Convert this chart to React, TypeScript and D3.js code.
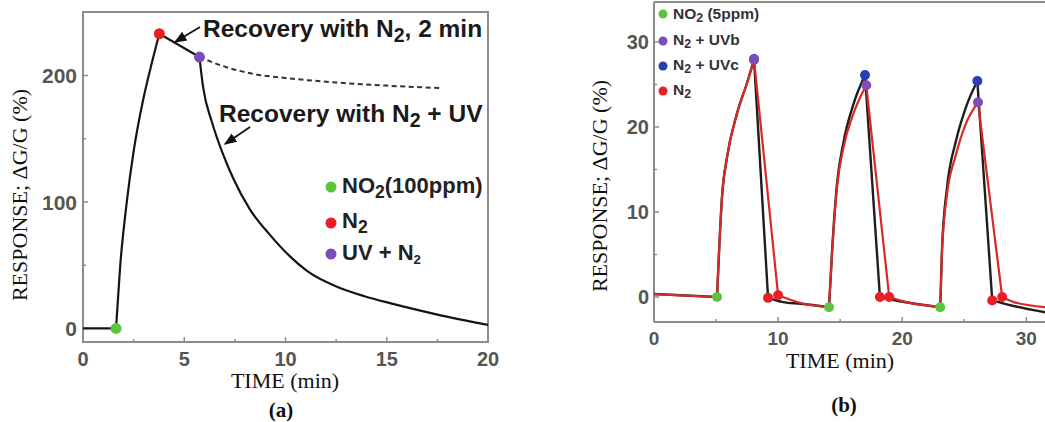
import React from "react";
import * as d3 from "d3";

const W = 1045;
const H = 422;

type Pt = [number, number];

// ---- panel (a): NO2 100 ppm, one cycle ----
const aMain: Pt[] = [
  [0, 0], [1.63, 0], [1.83, 48], [2.17, 101], [2.5, 140], [2.96, 180], [3.4, 210], [3.77, 233],
  [5.75, 214.6], [5.93, 191], [6.37, 163], [6.86, 140], [7.41, 119], [8.25, 94], [9.23, 74],
  [10.22, 57], [11.06, 45.5], [12.69, 32], [13.9, 25.5], [15.16, 20], [17.5, 11], [20, 2.8],
];
const aDashed: Pt[] = [[5.75, 214.6], [7, 207], [8.5, 201], [10, 198], [12.5, 194.5], [15, 192], [17.7, 190]];
const aNO2: Pt[] = [[1.63, 0]];
const aN2: Pt[] = [[3.77, 233]];
const aUV: Pt[] = [[5.75, 214.6]];
const aXTicks = [0, 5, 10, 15, 20];
const aXMinor = [2.5, 7.5, 12.5, 17.5];
const aYTicks = [0, 100, 200];
const aYMinor = [50, 150];

// ---- panel (b): NO2 5 ppm, three cycles ----
const bBlack: Pt[] = [
  [0, 0.35], [5.08, 0], [5.48, 11.8], [5.89, 16.5], [6.69, 21.6], [7.5, 25.2], [8.06, 27.9],
  [9.19, -0.1], [10.4, -0.6], [11.8, -0.8], [14.1, -1.2],
  [14.35, 5.5], [14.75, 13.4], [15.25, 18.1], [16.05, 22.6], [17.0, 26.1],
  [18.2, 0], [19.8, -0.5], [23.06, -1.2],
  [23.2, 5.5], [23.6, 12.8], [24.3, 18.2], [25.1, 22.2], [26.05, 25.4],
  [27.25, -0.4], [28.5, -0.9], [31.5, -1.8],
];
const bRed: Pt[] = [
  [0, 0.35], [5.08, 0], [5.48, 11.8], [5.89, 16.5], [6.69, 21.6], [7.5, 25.2], [8.06, 27.9],
  [10.0, 0.2], [11.8, -0.7], [14.1, -1.2],
  [14.35, 5.3], [14.75, 13], [15.25, 17.5], [16.05, 21.5], [17.1, 24.9],
  [18.95, 0], [19.8, -0.4], [23.06, -1.2],
  [23.2, 5.3], [23.6, 12], [24.3, 16.6], [25.1, 20.3], [26.1, 22.9],
  [28.05, 0], [29, -0.6], [31.5, -1.2],
];
const bNO2: Pt[] = [[5.08, 0], [14.1, -1.2], [23.06, -1.2]];
const bUVc: Pt[] = [[8.06, 28.0], [17.0, 26.1], [26.05, 25.4]];
const bUVb: Pt[] = [[8.06, 27.9], [17.1, 24.9], [26.1, 22.9]];
const bN2: Pt[] = [[9.19, -0.1], [10.0, 0.2], [18.2, 0], [18.95, 0], [27.25, -0.4], [28.05, 0]];
const bXTicks = [0, 10, 20, 30];
const bXMinor = [5, 15, 25];
const bYTicks = [0, 10, 20, 30];
const bYMinor = [5, 15, 25];

const GREEN = "#5cc43e";
const RED = "#ea1f26";
const PURPLE = "#7a4db8";
const BLUE = "#2b3db4";
const FRAME = "#8c8c8c";
const TICKTXT = "#555";
const SANS = "Arial, 'Liberation Sans', sans-serif";
const SERIF = "'Times New Roman', 'Liberation Serif', serif";

// split a series into pieces at marker times so the corners stay sharp
function pieces(pts: Pt[], corners: number[]): Pt[][] {
  const out: Pt[][] = [];
  let cur: Pt[] = [];
  pts.forEach((p, i) => {
    cur.push(p);
    if (i > 0 && i < pts.length - 1 && corners.some((c) => Math.abs(c - p[0]) < 1e-6)) {
      out.push(cur);
      cur = [p];
    }
  });
  out.push(cur);
  return out;
}

// subscript, with the text that follows it moved back up to the baseline
const Sub = ({ children, dy = 5, size = "80%", after }: any) => (
  <>
    <tspan dy={dy} fontSize={size}>{children}</tspan>
    {after ? <tspan dy={-dy}>{after}</tspan> : null}
  </>
);

export default function App() {
  // scales (a)
  const ax = d3.scaleLinear().domain([0, 20]).range([83, 488]);
  const ay = d3.scaleLinear().domain([-10.7, 250.2]).range([342, 12]);
  // scales (b)
  const bx = d3.scaleLinear().domain([0, 31.5]).range([654, 1045]);
  const by = d3.scaleLinear().domain([-2.94, 34.7]).range([322, 2]);

  const aLine = d3.line<Pt>().x((d) => ax(d[0])).y((d) => ay(d[1])).curve(d3.curveMonotoneX);
  const bLine = d3.line<Pt>().x((d) => bx(d[0])).y((d) => by(d[1])).curve(d3.curveMonotoneX);

  const aCorners = [...aNO2, ...aN2, ...aUV].map((d) => d[0]);
  const blackCorners = [...bNO2, ...bUVc, ...bN2].map((d) => d[0]);
  const redCorners = [...bNO2, ...bUVb, ...bN2].map((d) => d[0]);

  const [ax0, ax1] = ax.range();
  const [ay0, ay1] = ay.range();
  const [bx0, bx1] = bx.range();
  const [by0, by1] = by.range();

  return (
    <svg width={W} height={H} style={{ position: "absolute", left: 0, top: 0, background: "#fff" }}>
      <defs>
        <marker id="arr" viewBox="0 0 10 10" refX="9" refY="5" markerWidth="7" markerHeight="7" orient="auto">
          <path d="M0,1 L10,5 L0,9 z" fill="#111" />
        </marker>
        <clipPath id="bclip">
          <rect x={bx0} y={by1} width={bx1 - bx0} height={by0 - by1} />
        </clipPath>
      </defs>

      {/* ===== panel (a) ===== */}
      <rect x={ax0} y={ay1} width={ax1 - ax0} height={ay0 - ay1} fill="none" stroke={FRAME} strokeWidth={2} />
      {aXTicks.map((t) => (
        <g key={"ax" + t}>
          <line x1={ax(t)} x2={ax(t)} y1={ay0} y2={ay0 - 5} stroke={FRAME} strokeWidth={1.5} />
          <text x={ax(t)} y={366} textAnchor="middle" fontFamily={SANS} fontWeight="bold" fontSize={20} fill={TICKTXT}>{t}</text>
        </g>
      ))}
      {aXMinor.map((t) => (
        <line key={"axm" + t} x1={ax(t)} x2={ax(t)} y1={ay0} y2={ay0 - 3} stroke={FRAME} strokeWidth={1.5} />
      ))}
      {aYTicks.map((t) => (
        <g key={"ay" + t}>
          <line x1={ax0} x2={ax0 + 5} y1={ay(t)} y2={ay(t)} stroke={FRAME} strokeWidth={1.5} />
          <text x={77} y={ay(t)} dy="0.36em" textAnchor="end" fontFamily={SANS} fontWeight="bold" fontSize={21} fill={TICKTXT}>{t}</text>
        </g>
      ))}
      {aYMinor.map((t) => (
        <line key={"aym" + t} x1={ax0} x2={ax0 + 3} y1={ay(t)} y2={ay(t)} stroke={FRAME} strokeWidth={1.5} />
      ))}

      <path d={aLine(aDashed) || ""} fill="none" stroke="#333" strokeWidth={2} strokeDasharray="5,3.5" />
      {pieces(aMain, aCorners).map((p, i) => (
        <path key={"am" + i} d={aLine(p) || ""} fill="none" stroke="#151515" strokeWidth={2.2} />
      ))}
      {aNO2.map((d, i) => <circle key={"ag" + i} cx={ax(d[0])} cy={ay(d[1])} r={5.5} fill={GREEN} />)}
      {aN2.map((d, i) => <circle key={"ar" + i} cx={ax(d[0])} cy={ay(d[1])} r={5.5} fill={RED} />)}
      {aUV.map((d, i) => <circle key={"ap" + i} cx={ax(d[0])} cy={ay(d[1])} r={5.5} fill={PURPLE} />)}

      {/* annotations */}
      <line x1={200} y1={27} x2={175} y2={42} stroke="#111" strokeWidth={1.8} markerEnd="url(#arr)" />
      <text x={203} y={37} fontFamily={SANS} fontWeight="bold" fontSize={24.5} fill="#1a1a1a">
        Recovery with N<Sub after=", 2 min">2</Sub>
      </text>
      <line x1={250} y1={127} x2={225} y2={144} stroke="#111" strokeWidth={1.8} markerEnd="url(#arr)" />
      <text x={219} y={122} fontFamily={SANS} fontWeight="bold" fontSize={24.5} fill="#1a1a1a">
        Recovery with N<Sub after=" + UV">2</Sub>
      </text>

      {/* legend (a) */}
      <circle cx={331} cy={187} r={5.5} fill={GREEN} />
      <text x={342} y={193} fontFamily={SANS} fontWeight="bold" fontSize={22} fill="#222">
        NO<Sub after="(100ppm)">2</Sub>
      </text>
      <circle cx={331} cy={223} r={5.5} fill={RED} />
      <text x={342} y={228} fontFamily={SANS} fontWeight="bold" fontSize={22} fill="#222">
        N<Sub>2</Sub>
      </text>
      <circle cx={331} cy={254} r={5.5} fill={PURPLE} />
      <text x={342} y={260} fontFamily={SANS} fontWeight="bold" fontSize={22} fill="#222">
        UV + N<Sub dy={4} size="60%">2</Sub>
      </text>

      <text x={285} y={388} textAnchor="middle" fontFamily={SERIF} fontSize={22} fill="#111">TIME (min)</text>
      <text transform="translate(27,195) rotate(-90)" textAnchor="middle" fontFamily={SERIF} fontSize={22} fill="#111">
        {"RESPONSE;  \u0394G/G  (%)"}
      </text>
      <text x={281} y={417} textAnchor="middle" fontFamily={SERIF} fontWeight="bold" fontSize={21} fill="#111">(a)</text>

      {/* ===== panel (b) ===== */}
      <line x1={bx0} x2={bx1} y1={by1} y2={by1} stroke={FRAME} strokeWidth={2} />
      <line x1={bx0} x2={bx0} y1={by1} y2={by0} stroke={FRAME} strokeWidth={2} />
      <line x1={bx0} x2={bx1} y1={by0} y2={by0} stroke={FRAME} strokeWidth={2} />
      {bXTicks.map((t) => (
        <g key={"bx" + t}>
          <line x1={bx(t)} x2={bx(t)} y1={by0} y2={by0 - 5} stroke={FRAME} strokeWidth={1.5} />
          <text x={bx(t)} y={345} textAnchor="middle" fontFamily={SANS} fontWeight="bold" fontSize={19} fill={TICKTXT}>{t}</text>
        </g>
      ))}
      {bXMinor.map((t) => (
        <line key={"bxm" + t} x1={bx(t)} x2={bx(t)} y1={by0} y2={by0 - 3} stroke={FRAME} strokeWidth={1.5} />
      ))}
      {bYTicks.map((t) => (
        <g key={"by" + t}>
          <line x1={bx0} x2={bx0 + 5} y1={by(t)} y2={by(t)} stroke={FRAME} strokeWidth={1.5} />
          <text x={649} y={by(t)} dy="0.36em" textAnchor="end" fontFamily={SANS} fontWeight="bold" fontSize={20} fill={TICKTXT}>{t}</text>
        </g>
      ))}
      {bYMinor.map((t) => (
        <line key={"bym" + t} x1={bx0} x2={bx0 + 3} y1={by(t)} y2={by(t)} stroke={FRAME} strokeWidth={1.5} />
      ))}

      <g clipPath="url(#bclip)">
        {pieces(bBlack, blackCorners).map((p, i) => (
          <path key={"bk" + i} d={bLine(p) || ""} fill="none" stroke="#1e1e1e" strokeWidth={2.4} />
        ))}
        {pieces(bRed, redCorners).map((p, i) => (
          <path key={"br" + i} d={bLine(p) || ""} fill="none" stroke="#d42a2a" strokeWidth={2.2} />
        ))}
      </g>
      {bNO2.map((d, i) => <circle key={"bg" + i} cx={bx(d[0])} cy={by(d[1])} r={5} fill={GREEN} />)}
      {bN2.map((d, i) => <circle key={"bn" + i} cx={bx(d[0])} cy={by(d[1])} r={5} fill={RED} />)}
      {bUVc.map((d, i) => <circle key={"bc" + i} cx={bx(d[0])} cy={by(d[1])} r={5} fill={BLUE} />)}
      {bUVb.map((d, i) => <circle key={"bb" + i} cx={bx(d[0])} cy={by(d[1])} r={5} fill={PURPLE} />)}

      {/* legend (b) */}
      <circle cx={663} cy={14} r={4.5} fill={GREEN} />
      <text x={673} y={19} fontFamily={SANS} fontWeight="bold" fontSize={15.5} fill="#333">
        NO<Sub dy={3} after=" (5ppm)">2</Sub>
      </text>
      <circle cx={663} cy={41} r={4.5} fill={PURPLE} />
      <text x={673} y={45} fontFamily={SANS} fontWeight="bold" fontSize={15.5} fill="#333">
        N<Sub dy={3} after=" + UVb">2</Sub>
      </text>
      <circle cx={663} cy={66} r={4.5} fill={BLUE} />
      <text x={673} y={70} fontFamily={SANS} fontWeight="bold" fontSize={15.5} fill="#333">
        N<Sub dy={3} after=" + UVc">2</Sub>
      </text>
      <circle cx={663} cy={91} r={4.5} fill={RED} />
      <text x={673} y={95} fontFamily={SANS} fontWeight="bold" fontSize={15.5} fill="#333">
        N<Sub dy={3}>2</Sub>
      </text>

      <text x={840} y={368} textAnchor="middle" fontFamily={SERIF} fontSize={22} fill="#111">TIME (min)</text>
      <text transform="translate(607,186) rotate(-90)" textAnchor="middle" fontFamily={SERIF} fontSize={22} fill="#111">
        {"RESPONSE;  \u0394G/G  (%)"}
      </text>
      <text x={844} y={412} textAnchor="middle" fontFamily={SERIF} fontWeight="bold" fontSize={21} fill="#111">(b)</text>
    </svg>
  );
}
